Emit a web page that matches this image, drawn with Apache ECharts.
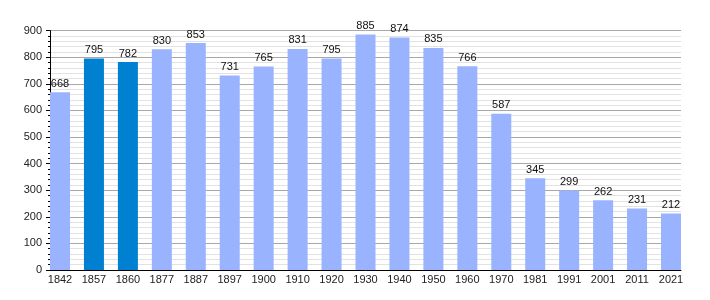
<!DOCTYPE html>
<html><head><meta charset="utf-8">
<script src="https://cdn.jsdelivr.net/npm/echarts@6/dist/echarts.min.js"></script>
<style>html,body{margin:0;padding:0;background:#fff}#c{width:710px;height:300px}</style>
</head><body><div id="c"></div>
<script>
const categories = ['1842','1857','1860','1877','1887','1897','1900','1910','1920','1930','1940','1950','1960','1970','1981','1991','2001','2011','2021'];
const values = [668,795,782,830,853,731,765,831,795,885,874,835,766,587,345,299,262,231,212];
const highlighted = ['1857','1860'];
const yTicks = [0,100,200,300,400,500,600,700,800,900];

const light = '#99b3ff', dark = '#0080d0';
const font = 'Liberation Sans, Arial, sans-serif';
const chart = echarts.init(document.getElementById('c'), null, {renderer:'canvas'});
chart.setOption({
  animation:false,
  grid:[
    {left:50, right:29, top:30.6, bottom:30},
    {left:43.03, right:22.03, top:30.6, bottom:30}
  ],
  xAxis:[
    {gridIndex:0, type:'value', min:0, max:1, axisLine:{show:true, lineStyle:{color:'#000', width:1}},
     axisTick:{show:false}, axisLabel:{show:false}, splitLine:{show:false}},
    {gridIndex:1, type:'category', data:categories, axisLine:{show:false}, axisTick:{show:false},
     axisLabel:{color:'#222', fontSize:11, fontFamily:font, margin:4}}
  ],
  yAxis:[
    {gridIndex:0, type:'value', min:yTicks[0], max:yTicks[yTicks.length-1], interval:100,
     axisLine:{show:true, lineStyle:{color:'#000', width:1}},
     axisTick:{show:true, length:4, lineStyle:{color:'#000'}},
     minorTick:{show:true, splitNumber:5, length:2, lineStyle:{color:'#000'}},
     axisLabel:{color:'#222', fontSize:11, fontFamily:font, margin:8},
     splitLine:{show:true, lineStyle:{color:'#a8a8a8', width:1}},
     minorSplitLine:{show:true, lineStyle:{color:'#e2e2e2', width:1}}},
    {gridIndex:1, type:'value', min:0, max:900, show:false, splitLine:{show:false}}
  ],
  series:[{
    type:'bar', xAxisIndex:1, yAxisIndex:1, barWidth:20,
    data: values.map((v,i)=>({value:v, itemStyle:{color: highlighted.includes(categories[i]) ? dark : light}})),
    label:{show:true, position:'top', distance:3, color:'#111', fontSize:11, fontFamily:font}
  }]
});
</script></body></html>
